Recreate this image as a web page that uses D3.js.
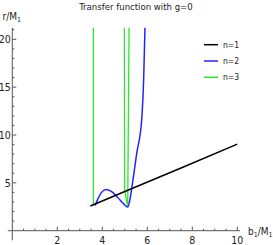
<html>
<head>
<style>
  body { margin: 0; background: #fff; }
  text { font-family: "DejaVu Sans Condensed", "DejaVu Sans", sans-serif; fill: #222; }
  .tick line { stroke: #555; }
</style>
<script src="https://d3js.org/d3.v7.min.js"></script>
</head>
<body>
<svg width="273" height="245"></svg>
<script>
// values
var black_n1 = [[3.47, 2.58], [5, 4.1], [7.5, 6.55], [10, 9.05]];
var blue_n2 = [[3.68, 2.63], [3.8, 3.3], [3.95, 3.95], [4.16, 4.3], [4.4, 4.1], [4.7, 3.45],
               [4.95, 2.8], [5.13, 2.47], [5.23, 3.27], [5.31, 4.46], [5.53, 8.09],
               [5.75, 11.57], [5.84, 16], [5.9, 21.5]];
var green_n3a = [[3.6, 21.5], [3.6, 2.68]];
var green_n3b = [[4.98, 21.5], [4.99, 4.3], [5.13, 2.47], [5.19, 21.5]];
var xTicks = [2, 4, 6, 8, 10];
var yTicks = [5, 10, 15, 20];
var legendNames = ["n=1", "n=2", "n=3"];
var legendColors = ["#000", "#2323ff", "#2ee62e"];

var svg = d3.select("svg");

var x = d3.scaleLinear().domain([0, 10]).range([12.3, 237.3]);
var y = d3.scaleLinear().domain([0, 20]).range([230.7, 39.3]);

svg.append("defs").append("clipPath").attr("id", "clip")
   .append("rect")
   .attr("x", x(0)).attr("y", y(21.2))
   .attr("width", x(10.2) - x(0)).attr("height", y(-1) - y(21.2));

// axes
var minorX = d3.range(0.5, 10.01, 0.5);
var minorY = d3.range(1, 21.01, 1);

var gx = svg.append("g").attr("transform", "translate(0," + y(0) + ")");
gx.append("line").attr("x1", x(-0.2)).attr("x2", x(10.12)).attr("stroke", "#555");
gx.selectAll(".mt").data(minorX).enter().append("line")
  .attr("x1", function(d) { return x(d); }).attr("x2", function(d) { return x(d); })
  .attr("y1", 0).attr("y2", function(d) { return d % 2 === 0 ? -4 : -2; })
  .attr("stroke", "#555");
gx.selectAll(".lab").data(xTicks).enter().append("text")
  .attr("x", function(d) { return x(d); }).attr("y", 13)
  .attr("text-anchor", "middle").attr("font-size", 10.5)
  .text(function(d) { return d; });

var gy = svg.append("g").attr("transform", "translate(" + x(0) + ",0)");
gy.append("line").attr("y1", y(-1)).attr("y2", y(21.2)).attr("stroke", "#555");
gy.selectAll(".mt").data(minorY).enter().append("line")
  .attr("y1", function(d) { return y(d); }).attr("y2", function(d) { return y(d); })
  .attr("x1", 0).attr("x2", function(d) { return d % 5 === 0 ? 4 : 2; })
  .attr("stroke", "#555");
gy.selectAll(".lab").data(yTicks).enter().append("text")
  .attr("x", -1.5).attr("y", function(d) { return y(d) + 3.8; })
  .attr("text-anchor", "end").attr("font-size", 10.5)
  .text(function(d) { return d; });

// axis labels
var xl = svg.append("text").attr("x", 248).attr("y", 234.5).attr("font-size", 10);
xl.append("tspan").text("b");
xl.append("tspan").attr("dy", 2.5).attr("font-size", 7).text("1");
xl.append("tspan").attr("dy", -2.5).text("/M");
xl.append("tspan").attr("dy", 2.5).attr("font-size", 7).text("1");

var yl = svg.append("text").attr("x", 2.5).attr("y", 19.5).attr("font-size", 10);
yl.append("tspan").text("r/M");
yl.append("tspan").attr("dy", 2.5).attr("font-size", 7).text("1");

svg.append("text").attr("x", 136).attr("y", 9.5)
   .attr("text-anchor", "middle").attr("font-size", 9.5)
   .text("Transfer function with g=0");

// curves
var line = d3.line().x(function(d) { return x(d[0]); }).y(function(d) { return y(d[1]); });
var smooth = d3.line().curve(d3.curveMonotoneX)
               .x(function(d) { return x(d[0]); }).y(function(d) { return y(d[1]); });

var plot = svg.append("g").attr("clip-path", "url(#clip)");
plot.append("path").attr("d", line(green_n3a)).attr("fill", "none")
    .attr("stroke", legendColors[2]).attr("stroke-width", 1.3);
plot.append("path").attr("d", line(green_n3b)).attr("fill", "none")
    .attr("stroke", legendColors[2]).attr("stroke-width", 1.3);
plot.append("path").attr("d", smooth(blue_n2)).attr("fill", "none")
    .attr("stroke", legendColors[1]).attr("stroke-width", 1.5);
plot.append("path").attr("d", line(black_n1)).attr("fill", "none")
    .attr("stroke", legendColors[0]).attr("stroke-width", 1.5);

// legend
var lg = svg.selectAll(".leg").data(legendNames).enter().append("g")
            .attr("transform", function(d, i) { return "translate(204," + (44.7 + i * 16.3) + ")"; });
lg.append("line").attr("x1", 0).attr("x2", 14)
  .attr("stroke", function(d, i) { return legendColors[i]; }).attr("stroke-width", 1.5);
lg.append("text").attr("x", 19).attr("y", 3).attr("font-size", 8.5)
  .text(function(d) { return d; });
</script>
</body>
</html>
